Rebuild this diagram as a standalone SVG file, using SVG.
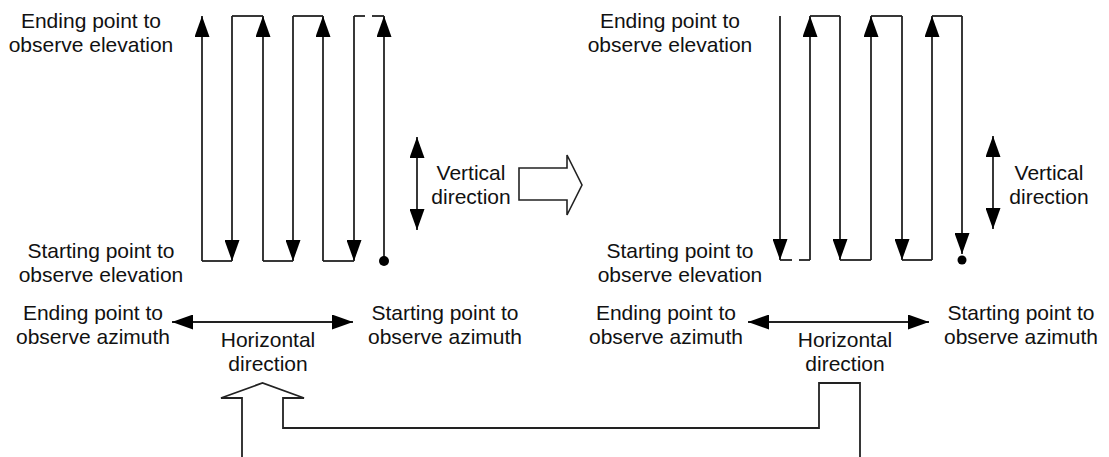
<svg xmlns="http://www.w3.org/2000/svg" width="1109" height="457" viewBox="0 0 1109 457">
<style>
.ln{stroke:#222;stroke-width:1.8;fill:none}
.ar{stroke:#222;stroke-width:1.8;fill:none;marker-end:url(#ah)}
.da{stroke:#222;stroke-width:1.8;fill:none;marker-start:url(#ahs);marker-end:url(#ah)}
.hol{stroke:#222;stroke-width:1.6;fill:#fff}
.t{font-family:"Liberation Sans",Arial,sans-serif;font-size:21px;fill:#111;text-anchor:middle}
</style>
<defs>
<marker id="ah" markerUnits="userSpaceOnUse" markerWidth="21" markerHeight="15" refX="21" refY="7.5" orient="auto">
<path d="M0,0 L21,7.5 L0,15 z" fill="#000"/>
</marker>
<marker id="ahs" markerUnits="userSpaceOnUse" markerWidth="21" markerHeight="15" refX="0" refY="7.5" orient="auto">
<path d="M21,0 L0,7.5 L21,15 z" fill="#000"/>
</marker>
</defs>
<rect width="1109" height="457" fill="#fff"/>

<g id="left-scan">
<line class="ar" x1="384" y1="261" x2="384" y2="16"/>
<line class="ln" x1="384" y1="16" x2="372" y2="16"/>
<line class="ln" x1="365" y1="16" x2="354" y2="16"/>
<line class="ar" x1="354" y1="16" x2="354" y2="261"/>
<line class="ln" x1="354" y1="261" x2="323" y2="261"/>
<line class="ar" x1="323" y1="261" x2="323" y2="16"/>
<line class="ln" x1="323" y1="16" x2="293" y2="16"/>
<line class="ar" x1="293" y1="16" x2="293" y2="261"/>
<line class="ln" x1="293" y1="261" x2="263" y2="261"/>
<line class="ar" x1="263" y1="261" x2="263" y2="16"/>
<line class="ln" x1="263" y1="16" x2="232" y2="16"/>
<line class="ar" x1="232" y1="16" x2="232" y2="261"/>
<line class="ln" x1="232" y1="261" x2="202" y2="261"/>
<line class="ar" x1="202" y1="261" x2="202" y2="16"/>
<circle cx="384" cy="261" r="5" fill="#000"/>
</g>

<g id="right-scan">
<line class="ar" x1="780" y1="16" x2="780" y2="260"/>
<line class="ln" x1="780" y1="260" x2="792" y2="260"/>
<line class="ln" x1="799" y1="260" x2="810" y2="260"/>
<line class="ar" x1="810" y1="260" x2="810" y2="16"/>
<line class="ln" x1="810" y1="16" x2="840" y2="16"/>
<line class="ar" x1="840" y1="16" x2="840" y2="260"/>
<line class="ln" x1="840" y1="260" x2="871" y2="260"/>
<line class="ar" x1="871" y1="260" x2="871" y2="16"/>
<line class="ln" x1="871" y1="16" x2="902" y2="16"/>
<line class="ar" x1="902" y1="16" x2="902" y2="260"/>
<line class="ln" x1="902" y1="260" x2="932" y2="260"/>
<line class="ar" x1="932" y1="260" x2="932" y2="16"/>
<line class="ln" x1="932" y1="16" x2="962" y2="16"/>
<line class="ar" x1="962" y1="16" x2="962" y2="254"/>
<circle cx="962" cy="260" r="4.5" fill="#000"/>
</g>

<g id="left-labels">
<text class="t" x="91" y="28">Ending point to</text>
<text class="t" x="91" y="52">observe elevation</text>
<text class="t" x="101" y="258">Starting point to</text>
<text class="t" x="101" y="282">observe elevation</text>
<text class="t" x="471" y="180">Vertical</text>
<text class="t" x="471" y="204">direction</text>
<text class="t" x="93" y="320">Ending point to</text>
<text class="t" x="93" y="344">observe azimuth</text>
<text class="t" x="445" y="320">Starting point to</text>
<text class="t" x="445" y="344">observe azimuth</text>
<text class="t" x="268" y="347">Horizontal</text>
<text class="t" x="268" y="371">direction</text>
</g>

<g id="right-labels">
<text class="t" x="670" y="28">Ending point to</text>
<text class="t" x="670" y="52">observe elevation</text>
<text class="t" x="680" y="258">Starting point to</text>
<text class="t" x="680" y="282">observe elevation</text>
<text class="t" x="1049" y="180">Vertical</text>
<text class="t" x="1049" y="204">direction</text>
<text class="t" x="666" y="320">Ending point to</text>
<text class="t" x="666" y="344">observe azimuth</text>
<text class="t" x="1021" y="320">Starting point to</text>
<text class="t" x="1021" y="344">observe azimuth</text>
<text class="t" x="845" y="347">Horizontal</text>
<text class="t" x="845" y="371">direction</text>
</g>

<g id="connectors">
<line class="da" x1="417" y1="137" x2="417" y2="230"/>
<line class="da" x1="993" y1="136" x2="993" y2="229"/>
<line class="da" x1="172" y1="322" x2="353" y2="322"/>
<line class="da" x1="748" y1="322" x2="929" y2="322"/>
<path class="hol" d="M519,168 H567 V155 L582,185 L567,215 V200 H519 Z"/>
<path class="ln" d="M242,457 V398 H221 L262.5,383 L304,398 H283 V428 H819 V383 H860 V457"/>
</g>
</svg>
